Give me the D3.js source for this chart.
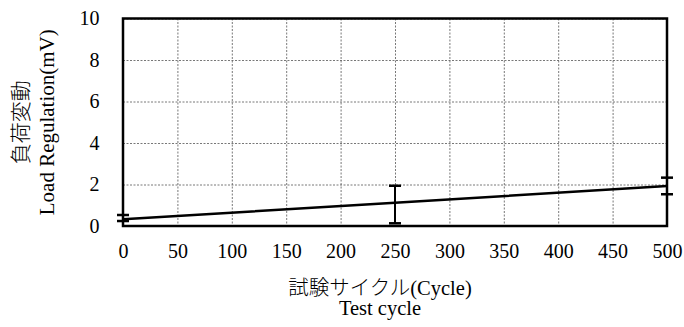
<!DOCTYPE html>
<html>
<head>
<meta charset="utf-8">
<script src="https://cdn.jsdelivr.net/npm/d3@7"></script>
<style>
  body { margin: 0; background: #fff; }
  .grid line { stroke: #555; stroke-width: 0.8; stroke-dasharray: 2,1.5; }
  .grid path { display: none; }
</style>
</head>
<body>
<svg id="chart"></svg>
<script>
// test cycles and measured load regulation (mV)
const cycles = [0, 250, 500];
const regulation = [0.33, 1.12, 1.93];
const errLow = [0.24, 0.13, 1.53];
const errHigh = [0.53, 1.94, 2.33];

const xTicks = [0, 50, 100, 150, 200, 250, 300, 350, 400, 450, 500];
const yTicks = [0, 2, 4, 6, 8, 10];

const FONT = "'Liberation Serif', 'Noto Sans CJK JP', serif";

const W = 684, H = 327;
const margin = {left: 123, right: 17, top: 18.5, bottom: 101};
const width = W - margin.left - margin.right;
const height = H - margin.top - margin.bottom;

const svg = d3.select('#chart').attr('width', W).attr('height', H)
  .style('font-family', FONT);
const chart = svg.append('g')
  .attr('transform', `translate(${margin.left}, ${margin.top})`);

const xScale = d3.scaleLinear().domain([0, 500]).range([0, width]);
const yScale = d3.scaleLinear().domain([0, 10]).range([height, 0]);

// dotted grid
chart.append('g')
  .attr('class', 'grid')
  .call(d3.axisBottom(xScale).tickValues(xTicks).tickSize(height).tickFormat(''));
chart.append('g')
  .attr('class', 'grid')
  .call(d3.axisLeft(yScale).tickValues(yTicks).tickSize(-width).tickFormat(''));

// tick labels
const xAxis = chart.append('g')
  .attr('transform', `translate(0, ${height})`)
  .call(d3.axisBottom(xScale).tickValues(xTicks).tickSize(0).tickPadding(18));
xAxis.select('.domain').remove();
xAxis.attr('font-family', FONT).attr('font-size', 20);
xAxis.selectAll('text').attr('fill', '#000');

const yAxis = chart.append('g')
  .call(d3.axisLeft(yScale).tickValues(yTicks).tickSize(0).tickPadding(23.5));
yAxis.select('.domain').remove();
yAxis.attr('font-family', FONT).attr('font-size', 20);
yAxis.selectAll('text').attr('fill', '#000');

// data line
const pts = cycles.map((c, i) => ({c, v: regulation[i], lo: errLow[i], hi: errHigh[i]}));
chart.append('path')
  .datum(pts)
  .attr('fill', 'none')
  .attr('stroke', '#000')
  .attr('stroke-width', 2.5)
  .attr('d', d3.line().x(d => xScale(d.c)).y(d => yScale(d.v)));

// error bars
const eb = chart.selectAll('.err').data(pts).enter().append('g').attr('class', 'err');
eb.append('line')
  .attr('x1', d => xScale(d.c)).attr('x2', d => xScale(d.c))
  .attr('y1', d => yScale(d.lo)).attr('y2', d => yScale(d.hi))
  .attr('stroke', '#000').attr('stroke-width', 2);
['lo', 'hi'].forEach(k => {
  eb.append('line')
    .attr('x1', d => xScale(d.c) - 6).attr('x2', d => xScale(d.c) + 6)
    .attr('y1', d => yScale(d[k])).attr('y2', d => yScale(d[k]))
    .attr('stroke', '#000').attr('stroke-width', 2.5);
});

// frame
chart.append('rect')
  .attr('width', width).attr('height', height)
  .attr('fill', 'none').attr('stroke', '#000').attr('stroke-width', 2.5);

// axis titles (Japanese parts a bit lighter, closer to the mincho look)
const xc = 380;
const xt = svg.append('text')
  .attr('text-anchor', 'middle')
  .attr('font-family', FONT)
  .attr('font-size', 20.5);
const l1 = xt.append('tspan').attr('x', xc).attr('y', 295);
l1.append('tspan').attr('font-weight', 300).text('試験サイクル');
l1.append('tspan').text('(Cycle)');
xt.append('tspan').attr('x', xc).attr('y', 315).text('Test cycle');

const yc = margin.top + height / 2;
const yt = svg.append('text')
  .attr('transform', `translate(0, ${yc}) rotate(-90)`)
  .attr('text-anchor', 'middle')
  .attr('font-family', FONT)
  .attr('font-size', 21);
yt.append('tspan').attr('x', 0).attr('y', 28).attr('font-weight', 300).text('負荷変動');
yt.append('tspan').attr('x', 0).attr('y', 54).text('Load Regulation(mV)');
</script>
</body>
</html>
